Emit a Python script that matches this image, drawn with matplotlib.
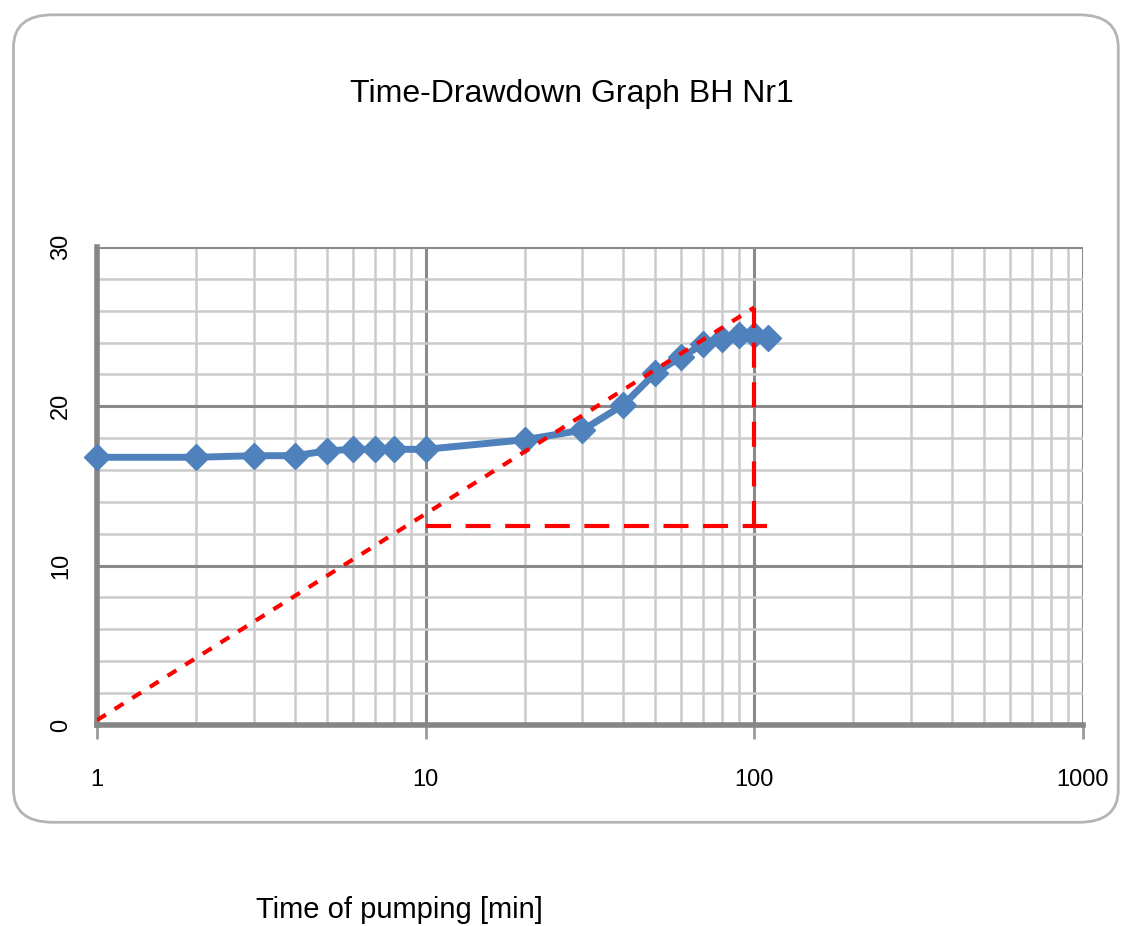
import matplotlib
matplotlib.use("Agg")
import matplotlib.pyplot as plt
from matplotlib.patches import FancyBboxPatch
from matplotlib.ticker import LogLocator, MultipleLocator, FixedLocator, NullFormatter

# pumping test data
time_min = [1, 2, 3, 4, 5, 6, 7, 8, 10, 20, 30, 40, 50, 60, 70, 80, 90, 100, 110]
drawdown = [16.8, 16.8, 16.9, 16.9, 17.2, 17.3, 17.3, 17.3, 17.3, 17.9, 18.5, 20.1,
            22.1, 23.1, 23.9, 24.2, 24.5, 24.5, 24.3]

# straight-line fit (Cooper-Jacob) and the construction lines
fit_x = [1, 100]
fit_y = [0.3, 26.2]
horiz_x = [10, 109]
horiz_y = [12.5, 12.5]
vert_x = [100, 100]
vert_y = [12.5, 26.2]

title = "Time-Drawdown Graph BH Nr1"
xlabel = "Time of pumping [min]"
x_ticks = [1, 10, 100, 1000]
x_ticklabels = ["1", "10", "100", "1000"]
y_ticks = [0, 10, 20, 30]

FONT = ["Liberation Sans Narrow", "Liberation Sans", "DejaVu Sans"]

fig = plt.figure(figsize=(11.25, 9.26), dpi=100, facecolor="white")

# rounded chart-area frame
frame = FancyBboxPatch((0.012, 0.112), 0.982, 0.872, boxstyle="round,pad=0,rounding_size=0.035",
                       transform=fig.transFigure, facecolor="none", edgecolor="#b4b4b4",
                       linewidth=2, zorder=0)
fig.patches.append(frame)

ax = fig.add_axes([0.0862, 0.2171, 0.8764, 0.5162])
ax.set_facecolor("none")
ax.set_xscale("log")
ax.set_xlim(1, 1000)
ax.set_ylim(0, 30)

ax.xaxis.set_major_locator(FixedLocator(x_ticks))
ax.xaxis.set_minor_locator(LogLocator(base=10, subs=range(2, 10)))
ax.xaxis.set_minor_formatter(NullFormatter())
ax.set_xticklabels(x_ticklabels)
ax.yaxis.set_major_locator(FixedLocator(y_ticks))
ax.yaxis.set_minor_locator(MultipleLocator(2))

ax.grid(which="major", color="#8a8a8a", linewidth=2.2, zorder=0)
ax.grid(which="minor", color="#cbcbcb", linewidth=1.8, zorder=0)
ax.set_axisbelow(True)

for s in ["top", "right"]:
    ax.spines[s].set_visible(False)
for s in ["left", "bottom"]:
    ax.spines[s].set_color("#868686")
    ax.spines[s].set_linewidth(4)

ax.tick_params(axis="x", which="major", length=10, width=2, color="#9a9a9a", pad=22, labelsize=17)
ax.tick_params(axis="x", which="minor", length=0)
ax.tick_params(axis="y", which="both", length=0, pad=18, labelsize=17)
for lab in ax.get_yticklabels():
    lab.set_rotation(90)
    lab.set_va("center")
for lab in ax.get_xticklabels() + ax.get_yticklabels():
    lab.set_family(FONT)

ax.plot(time_min, drawdown, color="#4f81bd", linewidth=5, marker="D", markersize=13,
        markerfacecolor="#4f81bd", markeredgecolor="#4f81bd", zorder=4, clip_on=False)
ax.plot(fit_x, fit_y, color="#ff0000", linewidth=3, linestyle=(0, (2.5, 2.5)), zorder=5)
ax.plot(horiz_x, horiz_y, color="#ff0000", linewidth=3, linestyle=(0, (6, 3.5)), zorder=5)
ax.plot(vert_x, vert_y, color="#ff0000", linewidth=3, linestyle=(0, (6, 3.5)), zorder=5)

fig.text(0.508, 0.898, title, ha="center", va="center", fontsize=23, family=FONT)
fig.text(0.355, 0.017, xlabel, ha="center", va="center", fontsize=21, family=FONT)

fig.savefig("out.png", dpi=100, facecolor="white")
